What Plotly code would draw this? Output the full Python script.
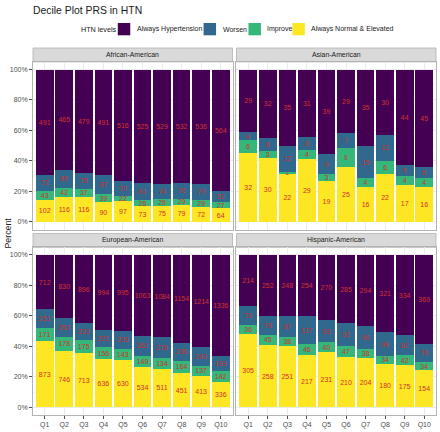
import plotly.graph_objects as go

groups = ["African-American", "Asian-American", "European-American", "Hispanic-American"]
deciles = ["Q1", "Q2", "Q3", "Q4", "Q5", "Q6", "Q7", "Q8", "Q9", "Q10"]
levels = ["Always Hypertension", "Worsen", "Improve", "Always Normal & Elevated"]
level_colors = ["#440154", "#31688E", "#35B779", "#FDE725"]
legend_title = "HTN levels"

always_htn = [
    [491, 465, 479, 491, 516, 525, 529, 532, 536, 564],
    [29, 32, 35, 31, 39, 29, 35, 30, 44, 45],
    [712, 830, 896, 994, 995, 1063, 1084, 1154, 1214, 1336],
    [214, 252, 248, 254, 270, 285, 294, 321, 334, 369],
]
worsen = [
    [72, 85, 75, 87, 70, 81, 74, 76, 79, 52],
    [4, 6, 12, 6, 9, 7, 15, 12, 5, 5],
    [251, 253, 223, 221, 239, 261, 276, 236, 243, 193],
    [79, 79, 87, 117, 93, 92, 96, 98, 82, 76],
]
improve = [
    [43, 42, 37, 39, 22, 26, 29, 29, 29, 27],
    [6, 3, 1, 4, 3, 9, 4, 6, 4, 4],
    [171, 178, 175, 156, 143, 149, 134, 164, 137, 142],
    [36, 45, 38, 46, 40, 47, 38, 34, 42, 34],
]
always_normal = [
    [102, 116, 116, 90, 97, 73, 75, 79, 72, 64],
    [32, 30, 22, 29, 19, 25, 16, 22, 17, 16],
    [873, 746, 713, 636, 630, 534, 511, 451, 413, 336],
    [305, 258, 251, 217, 231, 210, 204, 180, 175, 154],
]

series = [always_htn, worsen, improve, always_normal]

W, H = 440, 432
mt, mb, ml, mr = 48, 14, 33, 3
ph = H - mt - mb  # paper height
pw = W - ml - mr


def yfrac(px):
    return (H - mb - px) / ph


def xfrac(px):
    return (px - ml) / pw


x_doms = [[xfrac(33), xfrac(233)], [xfrac(237), xfrac(437)]]
top_panel = [yfrac(231), yfrac(62)]
bot_panel = [yfrac(418), yfrac(249)]
top_strip = [yfrac(62), yfrac(48)]
bot_strip = [yfrac(249), yfrac(235)]

font_family = "Liberation Sans, Arial, sans-serif"
text_red = "#D0312D"
fig = go.Figure()

panel_pos = [(0, 0), (1, 0), (0, 1), (1, 1)]  # (col, row)

for g in range(4):
    totals = [sum(s[g][i] for s in series) for i in range(len(deciles))]
    ax = "" if g == 0 else str(g + 1)
    # stack bottom first: Always Normal, Improve, Worsen, Always Hypertension
    for li in [3, 2, 1, 0]:
        vals = series[li][g]
        pct = [v / t * 100 for v, t in zip(vals, totals)]
        fig.add_trace(go.Bar(
            x=deciles, y=pct, text=[str(v) for v in vals],
            name=levels[li], legendgroup=levels[li],
            showlegend=False,
            marker=dict(color=level_colors[li], line=dict(width=0)),
            width=0.9,
            textposition="inside", insidetextanchor="middle", textangle=0,
            textfont=dict(color=text_red, size=7, family=font_family),
            xaxis="x" + ax, yaxis="y" + ax,
            hoverinfo="skip",
        ))

layout = dict(
    width=W, height=H,
    margin=dict(l=ml, r=mr, t=mt, b=mb, pad=0),
    paper_bgcolor="white", plot_bgcolor="white",
    barmode="stack", bargap=0.1,
    font=dict(family=font_family, color="#1A1A1A"),
    uniformtext=dict(minsize=7, mode="show"),
    showlegend=False,
    title=dict(text="Decile Plot PRS in HTN", x=33 / W, xanchor="left",
               y=1 - 10 / H, yanchor="middle",
               font=dict(size=10.4, color="#1A1A1A")),
    shapes=[], annotations=[],
)

for g in range(4):
    col, row = panel_pos[g]
    ax = "" if g == 0 else str(g + 1)
    ydom = top_panel if row == 0 else bot_panel
    layout["xaxis" + ax] = dict(
        domain=x_doms[col], anchor="y" + ax, type="category",
        range=[-0.6, 9.6], showgrid=True, gridcolor="#EBEBEB", gridwidth=0.5,
        showline=True, mirror=True, linecolor="#B3B3B3", linewidth=0.8,
        ticks="outside" if row == 1 else "", ticklen=3, tickcolor="#4D4D4D",
        showticklabels=(row == 1), tickfont=dict(size=7, color="#4D4D4D"),
        zeroline=False, fixedrange=True,
    )
    layout["yaxis" + ax] = dict(
        domain=ydom, anchor="x" + ax, range=[-5, 105],
        tickvals=[0, 20, 40, 60, 80, 100],
        ticktext=["0%", "20%", "40%", "60%", "80%", "100%"],
        showgrid=True, gridcolor="#EBEBEB", gridwidth=0.5,
        minor=dict(showgrid=True, gridcolor="#F5F5F5", tickvals=[10, 30, 50, 70, 90]),
        showline=True, mirror=True, linecolor="#B3B3B3", linewidth=0.8,
        ticks="outside" if col == 0 else "", ticklen=3, tickcolor="#4D4D4D",
        showticklabels=(col == 0), tickfont=dict(size=7, color="#4D4D4D"),
        zeroline=False, fixedrange=True,
    )
    sdom = top_strip if row == 0 else bot_strip
    layout["shapes"].append(dict(
        type="rect", xref="paper", yref="paper",
        x0=x_doms[col][0], x1=x_doms[col][1], y0=sdom[0], y1=sdom[1],
        fillcolor="#D9D9D9", line=dict(color="#B3B3B3", width=0.8), layer="below",
    ))
    layout["annotations"].append(dict(
        text=groups[g], xref="paper", yref="paper",
        x=(x_doms[col][0] + x_doms[col][1]) / 2, y=(sdom[0] + sdom[1]) / 2,
        xanchor="center", yanchor="middle", showarrow=False,
        font=dict(size=6.9, color="#1A1A1A"),
    ))

# y-axis title
layout["annotations"].append(dict(
    text="Percent", xref="paper", yref="paper", x=-(ml - 8) / pw, y=yfrac(235),
    xanchor="center", yanchor="middle", textangle=-90, showarrow=False,
    font=dict(size=8.8, color="#1A1A1A"),
))

# legend (ggplot-style, horizontal, on top)
leg_y = 29
layout["annotations"].append(dict(
    text=legend_title, xref="paper", yref="paper", x=xfrac(79), y=yfrac(leg_y),
    xanchor="left", yanchor="middle", showarrow=False,
    font=dict(size=7.2, color="#1A1A1A"),
))
key_x = [118, 204, 249, 293]
for li in range(4):
    layout["shapes"].append(dict(
        type="rect", xref="paper", yref="paper",
        x0=xfrac(key_x[li]), x1=xfrac(key_x[li] + 12.5),
        y0=yfrac(leg_y + 6.2), y1=yfrac(leg_y - 6.2),
        fillcolor=level_colors[li], line=dict(width=0),
    ))
    layout["annotations"].append(dict(
        text=levels[li], xref="paper", yref="paper",
        x=xfrac(key_x[li] + 17), y=yfrac(leg_y),
        xanchor="left", yanchor="middle", showarrow=False,
        font=dict(size=7, color="#1A1A1A"),
    ))

fig.update_layout(**layout)
fig.write_html("out.html", config={"displayModeBar": False},
               post_script="document.body.style.margin='0px';")
